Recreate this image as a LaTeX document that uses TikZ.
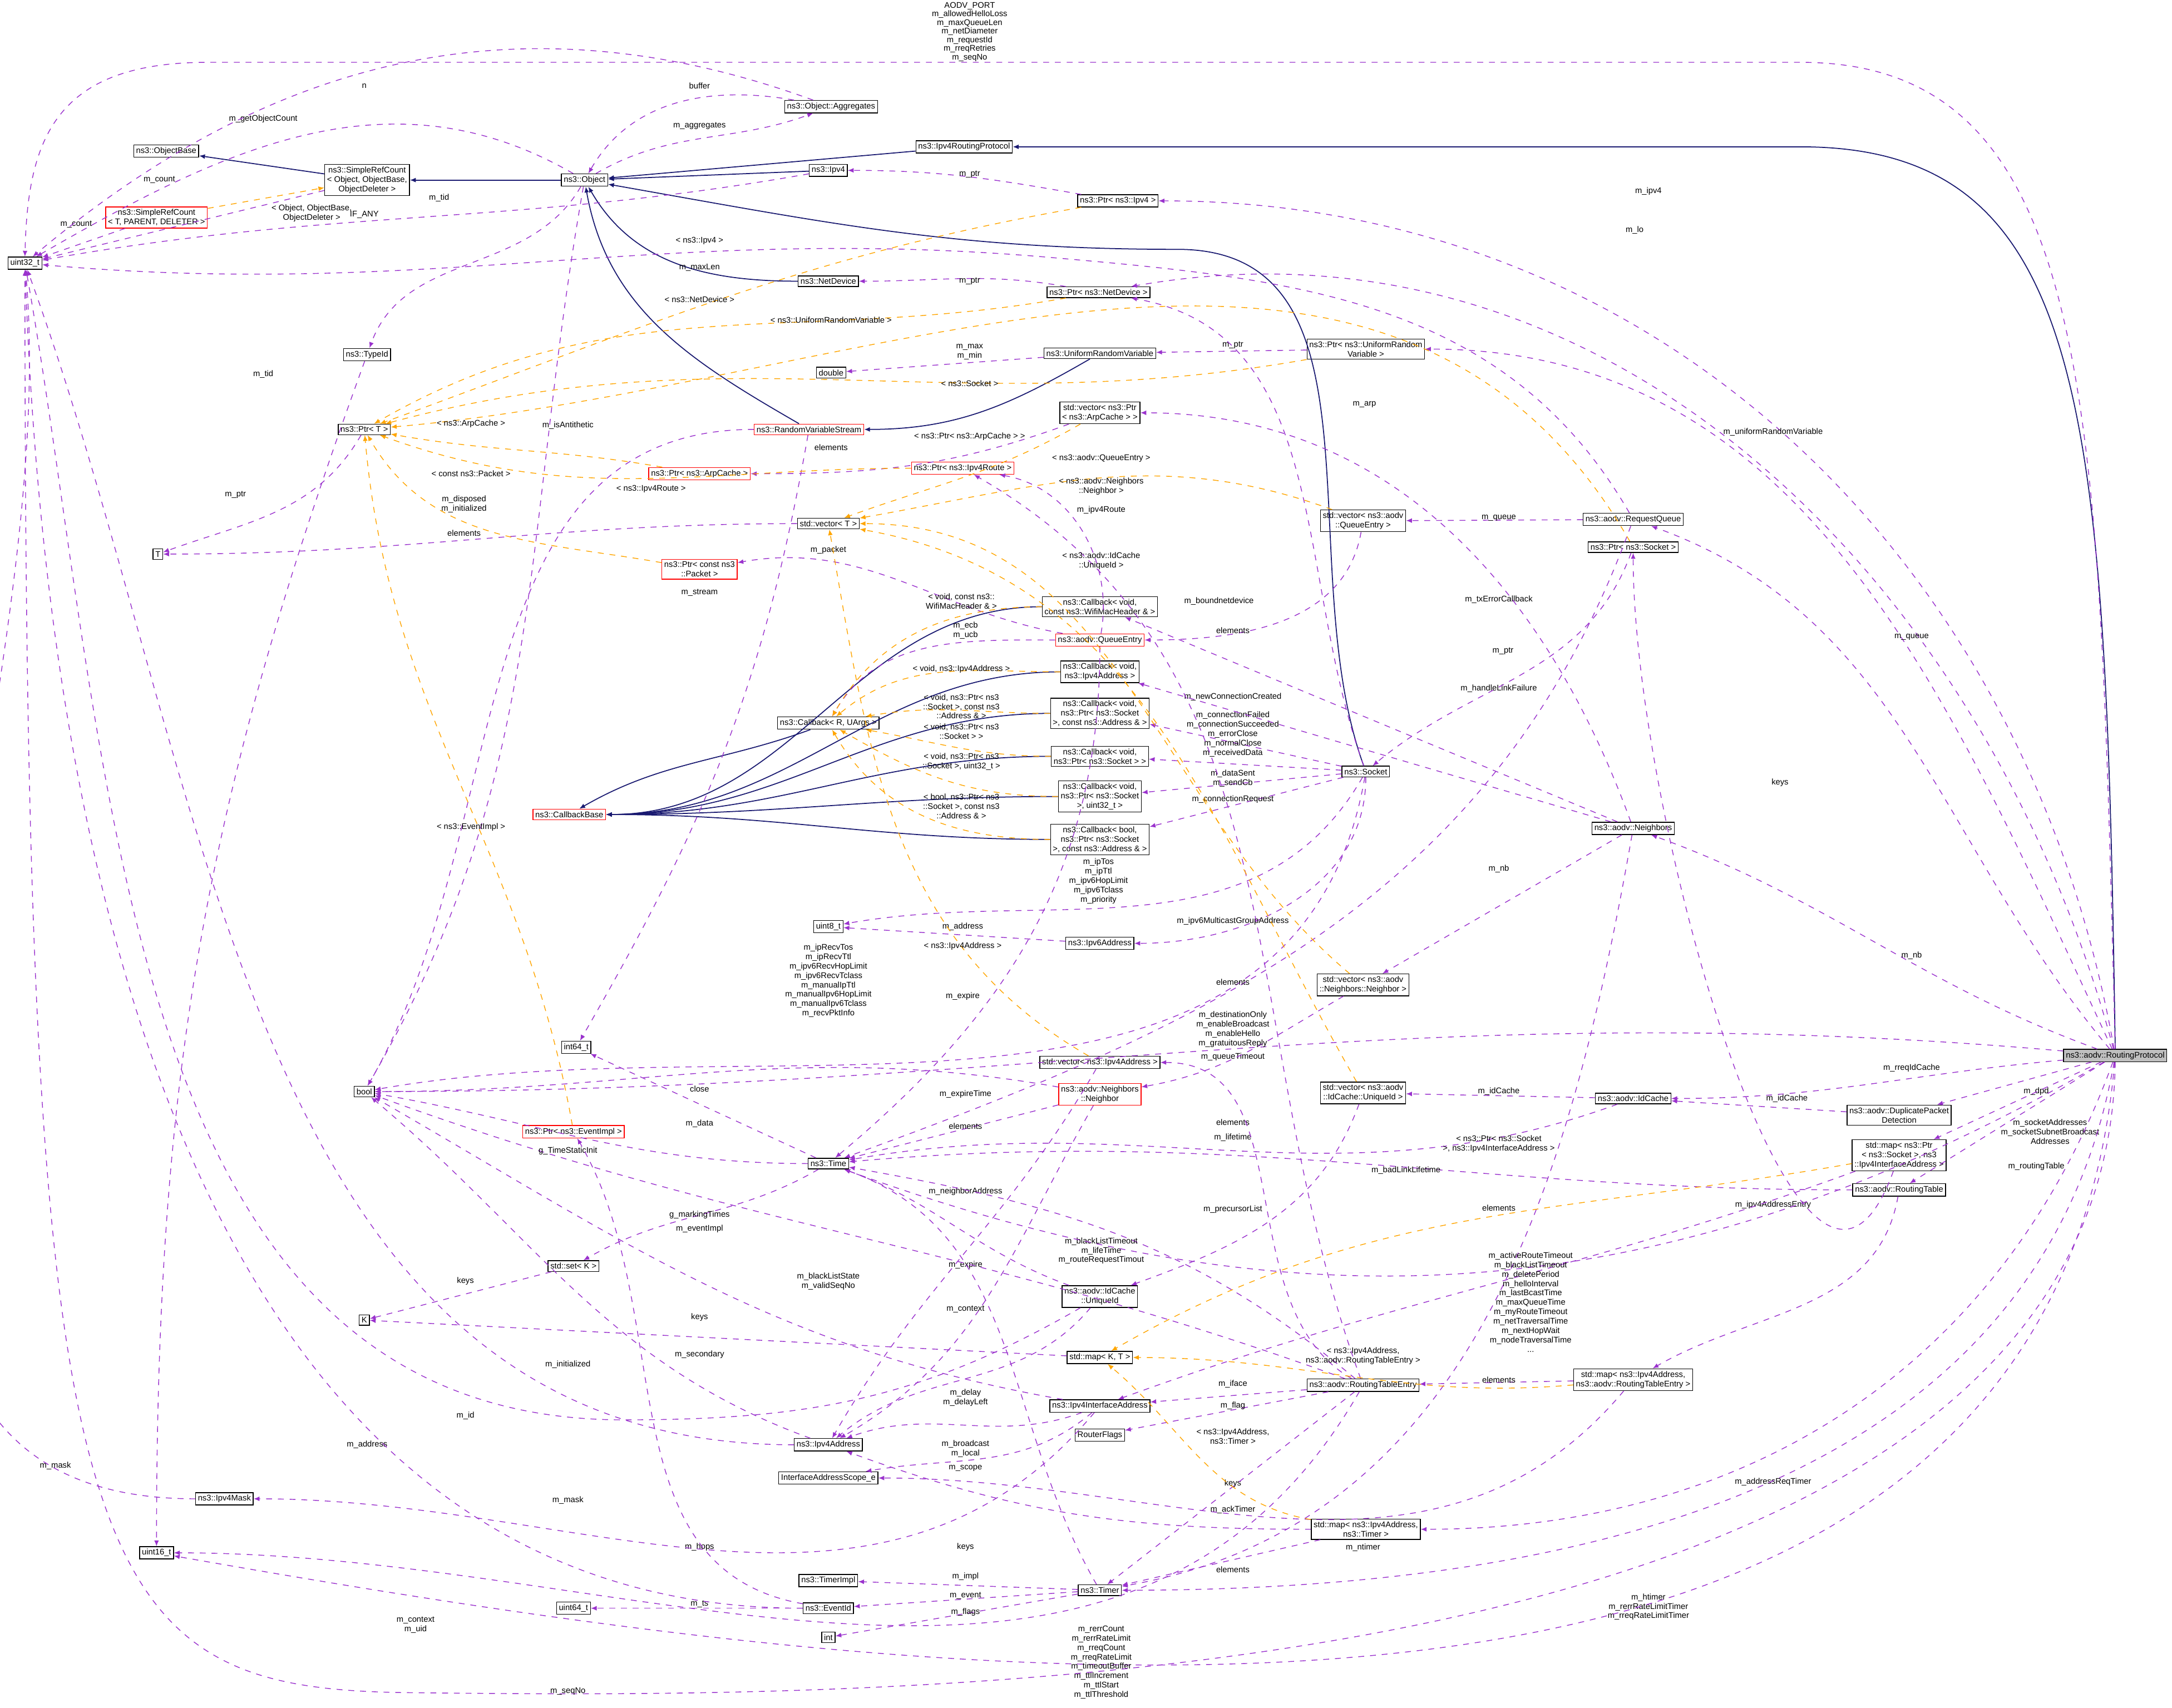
\documentclass[tikz,border=0pt]{standalone}
\usepackage{fontspec}
\setmainfont{Liberation Sans}
\usetikzlibrary{arrows.meta}
\definecolor{inhcol}{HTML}{191970}
\definecolor{usecol}{HTML}{9A32CD}
\definecolor{tplcol}{HTML}{FFA500}
\tikzset{
  cls/.style={rectangle, draw, fill=white, inner sep=1.2pt, align=center, font=\fontsize{4.2}{4.8}\selectfont},
  redcls/.style={cls, draw=red},
  lbl/.style={inner sep=0.3pt, align=center, font=\fontsize{4.2}{4.8}\selectfont},
  toplbl/.style={inner sep=0.3pt, align=center, font=\fontsize{4.2}{4.4}\selectfont},
  inh/.style={->, draw=inhcol, line width=0.5pt},
  use/.style={->, draw=usecol, dashed, line width=0.4pt},
  tpl/.style={->, draw=tplcol, dashed, line width=0.4pt}
}
\begin{document}
\begin{tikzpicture}[x=0.0249cm, y=-0.0249cm, >={Latex[length=3pt,width=2.4pt]}]
    \useasboundingbox (0,0) rectangle (1568,1233);
    % Classes
    \node [cls] (u32) at (18,190) {uint32\_t};
    \node [cls] (objbase) at (120,109) {ns3::ObjectBase};
    \node [cls] (src) at (265,130) {ns3::SimpleRefCount\\< Object, ObjectBase,\\ ObjectDeleter >};
    \node [redcls] (srct) at (113,157) {ns3::SimpleRefCount\\< T, PARENT, DELETER >};
    \node [cls] (obj) at (422,130) {ns3::Object};
    \node [cls] (aggr) at (600,77) {ns3::Object::Aggregates};
    \node [cls] (irp) at (696,106) {ns3::Ipv4RoutingProtocol};
    \node [cls] (ipv4) at (598,123) {ns3::Ipv4};
    \node [cls] (pipv4) at (807,145) {ns3::Ptr< ns3::Ipv4 >};
    \node [cls] (netdev) at (598,203) {ns3::NetDevice};
    \node [cls] (pnetdev) at (793,211) {ns3::Ptr< ns3::NetDevice >};
    \node [cls] (typeid) at (265,256) {ns3::TypeId};
    \node [cls] (dbl) at (600,269) {double};
    \node [cls] (urv) at (794,255) {ns3::UniformRandomVariable};
    \node [cls] (purv) at (986,252) {ns3::Ptr< ns3::UniformRandom\\Variable >};
    \node [cls] (ptrt) at (263,310) {ns3::Ptr< T >};
    \node [redcls] (rvs) at (584,310) {ns3::RandomVariableStream};
    \node [cls] (varp) at (794,298) {std::vector< ns3::Ptr\\< ns3::ArpCache > >};
    \node [redcls] (parp) at (505,342) {ns3::Ptr< ns3::ArpCache >};
    \node [redcls] (proute) at (695,338) {ns3::Ptr< ns3::Ipv4Route >};
    \node [cls] (vect) at (598,378) {std::vector< T >};
    \node [cls] (tt) at (114,400) {T};
    \node [cls] (vqe) at (984,376) {std::vector< ns3::aodv\\::QueueEntry >};
    \node [cls] (rq) at (1179,375) {ns3::aodv::RequestQueue};
    \node [cls] (psock) at (1179,395) {ns3::Ptr< ns3::Socket >};
    \node [redcls] (ppkt) at (505,411) {ns3::Ptr< const ns3\\::Packet >};
    \node [cls] (cbwifi) at (794,438) {ns3::Callback< void,\\ const ns3::WifiMacHeader \& >};
    \node [redcls] (qe) at (794,462) {ns3::aodv::QueueEntry};
    \node [cls] (cbip) at (794,485) {ns3::Callback< void,\\ ns3::Ipv4Address >};
    \node [cls] (cbr) at (598,522) {ns3::Callback< R, UArgs >};
    \node [cls] (cbsa) at (794,515) {ns3::Callback< void,\\ ns3::Ptr< ns3::Socket\\ >, const ns3::Address \& >};
    \node [cls] (cbs) at (794,546) {ns3::Callback< void,\\ ns3::Ptr< ns3::Socket > >};
    \node [cls] (sock) at (986,557) {ns3::Socket};
    \node [cls] (cbsu) at (794,575) {ns3::Callback< void,\\ ns3::Ptr< ns3::Socket\\ >, uint32\_t >};
    \node [redcls] (cbbase) at (411,588) {ns3::CallbackBase};
    \node [cls] (cbb) at (794,606) {ns3::Callback< bool,\\ ns3::Ptr< ns3::Socket\\ >, const ns3::Address \& >};
    \node [cls] (nbs) at (1179,598) {ns3::aodv::Neighbors};
    \node [cls] (u8) at (598,669) {uint8\_t};
    \node [cls] (ip6) at (794,681) {ns3::Ipv6Address};
    \node [cls] (vnb) at (984,711) {std::vector< ns3::aodv\\::Neighbors::Neighbor >};
    \node [cls] (i64) at (416,756) {int64\_t};
    \node [cls] (bool) at (263,788) {bool};
    \node [cls] (vip) at (794,767) {std::vector< ns3::Ipv4Address >};
    \node [redcls] (nb) at (794,790) {ns3::aodv::Neighbors\\::Neighbor};
    \node [cls] (vuid) at (984,789) {std::vector< ns3::aodv\\::IdCache::UniqueId >};
    \node [cls] (idc) at (1179,793) {ns3::aodv::IdCache};
    \node [cls, fill=black!25] (rp) at (1527,762) {ns3::aodv::RoutingProtocol};
    \node [redcls] (pev) at (414,817) {ns3::Ptr< ns3::EventImpl >};
    \node [cls] (dpd) at (1371,805) {ns3::aodv::DuplicatePacket\\Detection};
    \node [cls] (time) at (598,840) {ns3::Time};
    \node [cls] (msock) at (1371,834) {std::map< ns3::Ptr\\< ns3::Socket >, ns3\\::Ipv4InterfaceAddress >};
    \node [cls] (rt) at (1371,859) {ns3::aodv::RoutingTable};
    \node [cls] (setk) at (414,914) {std::set< K >};
    \node [cls] (kk) at (263,953) {K};
    \node [cls] (uid) at (794,936) {ns3::aodv::IdCache\\::UniqueId};
    \node [cls] (mapkt) at (794,980) {std::map< K, T >};
    \node [cls] (rte) at (984,1000) {ns3::aodv::RoutingTableEntry};
    \node [cls] (mrte) at (1179,996) {std::map< ns3::Ipv4Address,\\ ns3::aodv::RoutingTableEntry >};
    \node [cls] (ifa) at (794,1015) {ns3::Ipv4InterfaceAddress};
    \node [cls] (rflags) at (794,1036) {RouterFlags};
    \node [cls] (ip4) at (598,1043) {ns3::Ipv4Address};
    \node [cls] (scope) at (598,1067) {InterfaceAddressScope\_e};
    \node [cls] (mask) at (162,1082) {ns3::Ipv4Mask};
    \node [cls] (mtimer) at (986,1104) {std::map< ns3::Ipv4Address,\\ ns3::Timer >};
    \node [cls] (u16) at (113,1121) {uint16\_t};
    \node [cls] (timpl) at (598,1141) {ns3::TimerImpl};
    \node [cls] (timer) at (794,1148) {ns3::Timer};
    \node [cls] (u64) at (414,1161) {uint64\_t};
    \node [cls] (evid) at (598,1161) {ns3::EventId};
    \node [cls] (int) at (598,1182) {int};

    % Inheritance
    \draw [inh] (src) -- (objbase);
    \draw [inh] (obj) -- (src);
    \draw [inh] (irp) -- (obj);
    \draw [inh] (ipv4) -- (obj);
    \draw [inh] (netdev) to[out=180,in=-60] (obj);
    \draw [inh] (rvs) to[out=150,in=-80] (obj);
    \draw [inh] (urv) to[out=-150,in=0] (rvs);
    \draw [inh] (sock) to[out=110,in=0] (850,180) to[out=180,in=-10] (obj);
    \draw [inh] (rp.north) .. controls (1520,300) and (1510,106) .. (1300,106) -- (irp);
    \draw [inh] (cbr) to[out=-160,in=30] (cbbase);
    \foreach \c in {cbwifi,cbip,cbsa,cbs,cbsu,cbb}
        \draw [inh] (\c.west) to[out=180,in=0] (cbbase.east);

    % Members
    \draw [use] (src) -- (u32) node[lbl] at (115,130) {m\_count};
    \draw [use] (srct) -- (u32) node[lbl] at (55,162) {m\_count};
    \draw [use] (obj) to[out=150,in=30] (u32) node[lbl] at (190,86) {m\_getObjectCount};
    \draw [use] (aggr) to[out=160,in=40] (u32) node[lbl] at (263,62) {n};
    \draw [use] (aggr) to[out=170,in=60] (obj) node[lbl] at (505,62) {buffer};
    \draw [use] (obj) to[out=30,in=200] (aggr) node[lbl] at (505,91) {m\_aggregates};
    \draw [use] (obj) to[out=-120,in=70] (typeid) node[lbl] at (317,143) {m\_tid};
    \draw [use] (obj) to[out=-100,in=60] (bool) node[lbl] at (335,364) {m\_disposed\\m\_initialized};
    \draw [use] (ipv4) to[out=190,in=10] (u32) node[lbl] at (263,155) {IF\_ANY};
    \draw [use] (pipv4) to[out=170,in=0] (ipv4) node[lbl] at (700,126) {m\_ptr};
    \draw [use] (pnetdev) to[out=170,in=0] (netdev) node[lbl] at (700,203) {m\_ptr};
    \draw [use] (urv) -- (dbl) node[lbl] at (700,254) {m\_max\\m\_min};
    \draw [use] (purv) -- (urv) node[lbl] at (890,249) {m\_ptr};
    \draw [use] (typeid) to[out=-110,in=90] (u16) node[lbl] at (190,270) {m\_tid};
    \draw [use] (ptrt) to[out=-120,in=20] (tt) node[lbl] at (170,357) {m\_ptr};
    \draw [use] (rvs) to[out=180,in=60] (bool) node[lbl] at (410,307) {m\_isAntithetic};
    \draw [use] (rvs) to[out=-100,in=60] (i64) node[lbl] at (505,428) {m\_stream};
    \draw [use] (varp) to[out=-160,in=0] (parp) node[lbl] at (600,323) {elements};
    \draw [use] (vect) to[out=180,in=0] (tt) node[lbl] at (335,385) {elements};
    \draw [use] (qe) to[out=170,in=10] (ppkt) node[lbl] at (598,397) {m\_packet};
    \draw [use] (qe) to[out=80,in=-10] (proute) node[lbl] at (795,368) {m\_ipv4Route};
    \draw [use] (qe) to[out=-90,in=40] (time) node[lbl] at (695,719) {m\_expire};
    \draw [use] (qe) to[out=180,in=60] (cbr) node[lbl] at (697,455) {m\_ecb\\m\_ucb};
    \draw [use] (vqe) to[out=-100,in=0] (qe) node[lbl] at (890,455) {elements};
    \draw [use] (rq) -- (vqe) node[lbl] at (1082,374) {m\_queue};
    \draw [use] (rq) to[out=120,in=-5] (760,186) to[out=175,in=-5] (u32) node[lbl] at (505,193) {m\_maxLen};
    \draw [use] (rq) to[out=-110,in=20] (time) node[lbl] at (890,763) {m\_queueTimeout};
    \draw [use] (psock) to[out=-110,in=40] (sock) node[lbl] at (1085,470) {m\_ptr};
    \draw [use] (sock) to[out=110,in=-10] (pnetdev) node[lbl] at (880,434) {m\_boundnetdevice};
    \draw [use] (sock) -- (cbsa) node[lbl] at (890,503) {m\_newConnectionCreated};
    \draw [use] (sock) -- (cbs) node[lbl] at (890,530) {m\_connectionFailed\\m\_connectionSucceeded\\m\_errorClose\\m\_normalClose\\m\_receivedData};
    \draw [use] (sock) -- (cbsu) node[lbl] at (890,562) {m\_dataSent\\m\_sendCb};
    \draw [use] (sock) -- (cbb) node[lbl] at (890,577) {m\_connectionRequest};
    \draw [use] (sock) to[out=-120,in=10] (u8) node[lbl] at (793,636) {m\_ipTos\\m\_ipTtl\\m\_ipv6HopLimit\\m\_ipv6Tclass\\m\_priority};
    \draw [use] (sock) to[out=-100,in=10] (bool) node[lbl] at (598,708) {m\_ipRecvTos\\m\_ipRecvTtl\\m\_ipv6RecvHopLimit\\m\_ipv6RecvTclass\\m\_manualIpTtl\\m\_manualIpv6HopLimit\\m\_manualIpv6Tclass\\m\_recvPktInfo};
    \draw [use] (sock) to[out=-90,in=0] (ip6) node[lbl] at (890,665) {m\_ipv6MulticastGroupAddress};
    \draw [use] (ip6) -- (u8) node[lbl] at (695,669) {m\_address};
    \draw [use] (nbs) -- (vnb) node[lbl] at (1082,627) {m\_nb};
    \draw [use] (nbs) -- (cbip) node[lbl] at (1082,497) {m\_handleLinkFailure};
    \draw [use] (nbs) -- (cbwifi) node[lbl] at (1082,433) {m\_txErrorCallback};
    \draw [use] (nbs) to[out=110,in=0] (varp) node[lbl] at (985,292) {m\_arp};
    \draw [use] (nbs) to[out=-100,in=10] (timer) node[lbl] at (984,1117) {m\_ntimer};
    \draw [use] (vnb) to[out=-150,in=10] (nb) node[lbl] at (890,709) {elements};
    \draw [use] (nb) -- (time) node[lbl] at (697,790) {m\_expireTime};
    \draw [use] (nb) to[out=-120,in=30] (ip4) node[lbl] at (697,860) {m\_neighborAddress};
    \draw [use] (nb) to[out=170,in=0] (bool) node[lbl] at (505,786) {close};
    \draw [use] (vip) to[out=-120,in=60] (ip4) node[lbl] at (697,813) {elements};
    \draw [use] (idc) -- (vuid) node[lbl] at (1082,788) {m\_idCache};
    \draw [use] (idc) to[out=-160,in=10] (time) node[lbl] at (890,821) {m\_lifetime};
    \draw [use] (vuid) to[out=-110,in=20] (uid) node[lbl] at (890,810) {elements};
    \draw [use] (uid) to[out=160,in=-20] (time) node[lbl] at (697,913) {m\_expire};
    \draw [use] (uid) to[out=-130,in=40] (ip4) node[lbl] at (697,945) {m\_context};
    \draw [use] (uid) to[out=-150,in=0] (450,1025) to[out=180,in=-80] (u32) node[lbl] at (336,1022) {m\_id};
    \draw [use] (dpd) -- (idc) node[lbl] at (1290,793) {m\_idCache};
    \draw [use] (rt) to[out=180,in=5] (time) node[lbl] at (1015,845) {m\_badLinkLifetime};
    \draw [use] (rt) to[out=-100,in=30] (mrte) node[lbl] at (1280,870) {m\_ipv4AddressEntry};
    \draw [use] (msock) to[out=-160,in=20] (ifa) node[lbl] at (1082,872) {elements};
    \draw [use] (msock) to[out=-110,in=-90] (psock) node[lbl] at (1285,565) {keys};
    \draw [use] (mrte) -- (rte) node[lbl] at (1082,996) {elements};
    \draw [use] (mrte) to[out=-130,in=0] (scope) node[lbl] at (890,1071) {keys};
    \draw [use] (rte) to[out=150,in=0] (vip) node[lbl] at (890,873) {m\_precursorList};
    \draw [use] (rte) -- (ifa) node[lbl] at (890,999) {m\_iface};
    \draw [use] (rte) -- (rflags) node[lbl] at (890,1015) {m\_flag};
    \draw [use] (rte) -- (timer) node[lbl] at (890,1090) {m\_ackTimer};
    \draw [use] (rte) to[out=110,in=-30] (proute);
    \draw [use] (rte) to[out=160,in=-20] (bool) node[lbl] at (598,925) {m\_blackListState\\m\_validSeqNo};
    \draw [use] (rte) to[out=-120,in=0] (u16) node[lbl] at (505,1117) {m\_hops};
    \draw [use] (rte) to[out=140,in=-10] (time) node[lbl] at (795,903) {m\_blackListTimeout\\m\_lifeTime\\m\_routeRequestTimout};
    \draw [use] (time) -- (i64) node[lbl] at (505,811) {m\_data};
    \draw [use] (time) to[out=180,in=-10] (bool) node[lbl] at (410,831) {g\_TimeStaticInit};
    \draw [use] (time) to[out=-150,in=30] (setk) node[lbl] at (505,877) {g\_markingTimes};
    \draw [use] (setk) -- (kk) node[lbl] at (336,925) {keys};
    \draw [use] (mapkt) -- (kk) node[lbl] at (505,951) {keys};
    \draw [use] (ifa) to[out=-160,in=20] (ip4) node[lbl] at (697,1046) {m\_broadcast\\m\_local};
    \draw [use] (ifa) to[out=-140,in=10] (scope) node[lbl] at (697,1060) {m\_scope};
    \draw [use] (ifa) to[out=170,in=-30] (bool) node[lbl] at (505,978) {m\_secondary};
    \draw [use] (ifa) to[out=-130,in=0] (mask) node[lbl] at (410,1083) {m\_mask};
    \draw [use] (ip4) to[out=180,in=-70] (u32) node[lbl] at (265,1043) {m\_address};
    \draw [use] (ip4) to[out=160,in=-40] (bool) node[lbl] at (410,985) {m\_initialized};
    \draw [use] (mask) to[out=180,in=-85] (u32) node[lbl] at (40,1058) {m\_mask};
    \draw [use] (mtimer) -- (timer) node[lbl] at (890,1133) {elements};
    \draw [use] (mtimer) to[out=180,in=-20] (ip4) node[lbl] at (697,1117) {keys};
    \draw [use] (timer) -- (timpl) node[lbl] at (697,1138) {m\_impl};
    \draw [use] (timer) -- (evid) node[lbl] at (697,1152) {m\_event};
    \draw [use] (timer) -- (int) node[lbl] at (697,1164) {m\_flags};
    \draw [use] (timer) to[out=120,in=-20] (time) node[lbl] at (697,1009) {m\_delay\\m\_delayLeft};
    \draw [use] (evid) -- (u64) node[lbl] at (505,1158) {m\_ts};
    \draw [use] (evid) to[out=180,in=-88] (u32) node[lbl] at (300,1173) {m\_context\\m\_uid};
    \draw [use] (evid) to[out=170,in=-60] (pev) node[lbl] at (505,887) {m\_eventImpl};

    % Members of the routing protocol
    \draw [use] (rp.north) .. controls (1515,300) and (1515,45) .. (1300,45) -- (150,45) .. controls (40,45) and (20,100) .. (u32.north) node[toplbl] at (700,23) {AODV\_PORT\\m\_allowedHelloLoss\\m\_maxQueueLen\\m\_netDiameter\\m\_requestId\\m\_rreqRetries\\m\_seqNo};
    \draw [use] (rp) to[out=100,in=0] (pipv4) node[lbl] at (1190,138) {m\_ipv4};
    \draw [use] (rp) to[out=105,in=10] (pnetdev) node[lbl] at (1180,166) {m\_lo};
    \draw [use] (rp) to[out=115,in=0] (purv) node[lbl] at (1280,312) {m\_uniformRandomVariable};
    \draw [use] (rp) to[out=130,in=-20] (rq) node[lbl] at (1380,460) {m\_queue};
    \draw [use] (rp) to[out=160,in=-20] (nbs) node[lbl] at (1380,690) {m\_nb};
    \draw [use] (rp) to[out=175,in=0] (bool) node[lbl] at (890,743) {m\_destinationOnly\\m\_enableBroadcast\\m\_enableHello\\m\_gratuitousReply};
    \draw [use] (rp) to[out=-175,in=0] (idc) node[lbl] at (1380,771) {m\_rreqIdCache};
    \draw [use] (rp) -- (dpd) node[lbl] at (1470,788) {m\_dpd};
    \draw [use] (rp) -- (msock) node[lbl] at (1480,817) {m\_socketAddresses\\m\_socketSubnetBroadcast\\Addresses};
    \draw [use] (rp) -- (rt) node[lbl] at (1470,842) {m\_routingTable};
    \draw [use] (rp) to[out=-150,in=-20] (time) node[lbl] at (1105,940) {m\_activeRouteTimeout\\m\_blackListTimeout\\m\_deletePeriod\\m\_helloInterval\\m\_lastBcastTime\\m\_maxQueueTime\\m\_myRouteTimeout\\m\_netTraversalTime\\m\_nextHopWait\\m\_nodeTraversalTime\\...};
    \draw [use] (rp) to[out=-110,in=0] (mtimer) node[lbl] at (1280,1070) {m\_addressReqTimer};
    \draw [use] (rp) to[out=-100,in=0] (timer) node[lbl] at (1190,1160) {m\_htimer\\m\_rerrRateLimitTimer\\m\_rreqRateLimitTimer};
    \draw [use] (rp) to[out=-95,in=-10] (u16) node[lbl] at (795,1200) {m\_rerrCount\\m\_rerrRateLimit\\m\_rreqCount\\m\_rreqRateLimit\\m\_timeoutBuffer\\m\_ttlIncrement\\m\_ttlStart\\m\_ttlThreshold};
    \draw [use] (rp.south) .. controls (1520,1240) and (600,1225) .. (300,1222) .. controls (60,1220) and (18,1150) .. (u32.south) node[lbl] at (410,1221) {m\_seqNo};

    % Templates
    \draw [tpl] (srct) -- (src) node[lbl] at (225,154) {< Object, ObjectBase,\\ ObjectDeleter >};
    \draw [tpl] (pipv4) to[out=-170,in=20] (ptrt) node[lbl] at (505,174) {< ns3::Ipv4 >};
    \draw [tpl] (pnetdev) to[out=-170,in=30] (ptrt) node[lbl] at (505,216) {< ns3::NetDevice >};
    \draw [tpl] (purv) to[out=-170,in=15] (ptrt) node[lbl] at (600,231) {< ns3::UniformRandomVariable >};
    \draw [tpl] (psock) to[out=120,in=5] (ptrt) node[lbl] at (700,277) {< ns3::Socket >};
    \draw [tpl] (parp) to[out=170,in=-10] (ptrt) node[lbl] at (340,306) {< ns3::ArpCache >};
    \draw [tpl] (proute) to[out=180,in=-20] (ptrt) node[lbl] at (470,353) {< ns3::Ipv4Route >};
    \draw [tpl] (ppkt) to[out=170,in=-60] (ptrt) node[lbl] at (340,342) {< const ns3::Packet >};
    \draw [tpl] (pev) to[out=100,in=-85] (ptrt) node[lbl] at (340,597) {< ns3::EventImpl >};
    \draw [tpl] (varp) to[out=-150,in=20] (vect) node[lbl] at (700,315) {< ns3::Ptr< ns3::ArpCache > >};
    \draw [tpl] (vqe) to[out=160,in=10] (vect) node[lbl] at (795,331) {< ns3::aodv::QueueEntry >};
    \draw [tpl] (vnb) to[out=140,in=0] (vect) node[lbl] at (795,351) {< ns3::aodv::Neighbors\\::Neighbor >};
    \draw [tpl] (vuid) to[out=120,in=-10] (vect) node[lbl] at (795,405) {< ns3::aodv::IdCache\\::UniqueId >};
    \draw [tpl] (vip) to[out=150,in=-80] (vect) node[lbl] at (695,683) {< ns3::Ipv4Address >};
    \draw [tpl] (cbwifi) to[out=180,in=60] (cbr) node[lbl] at (694,434) {< void, const ns3::\\WifiMacHeader \& >};
    \draw [tpl] (cbip) to[out=180,in=40] (cbr) node[lbl] at (694,483) {< void, ns3::Ipv4Address >};
    \draw [tpl] (cbsa) to[out=180,in=10] (cbr) node[lbl] at (694,510) {< void, ns3::Ptr< ns3\\::Socket >, const ns3\\::Address \& >};
    \draw [tpl] (cbs) to[out=180,in=-10] (cbr) node[lbl] at (694,528) {< void, ns3::Ptr< ns3\\::Socket > >};
    \draw [tpl] (cbsu) to[out=180,in=-30] (cbr) node[lbl] at (694,550) {< void, ns3::Ptr< ns3\\::Socket >, uint32\_t >};
    \draw [tpl] (cbb) to[out=180,in=-60] (cbr) node[lbl] at (694,582) {< bool, ns3::Ptr< ns3\\::Socket >, const ns3\\::Address \& >};
    \draw [tpl] (msock) to[out=-170,in=30] (mapkt) node[lbl] at (1082,826) {< ns3::Ptr< ns3::Socket\\ >, ns3::Ipv4InterfaceAddress >};
    \draw [tpl] (mrte) to[out=-175,in=0] (mapkt) node[lbl] at (984,979) {< ns3::Ipv4Address,\\ ns3::aodv::RoutingTableEntry >};
    \draw [tpl] (mtimer) to[out=170,in=-40] (mapkt) node[lbl] at (890,1037) {< ns3::Ipv4Address,\\ ns3::Timer >};
\end{tikzpicture}
\end{document}
